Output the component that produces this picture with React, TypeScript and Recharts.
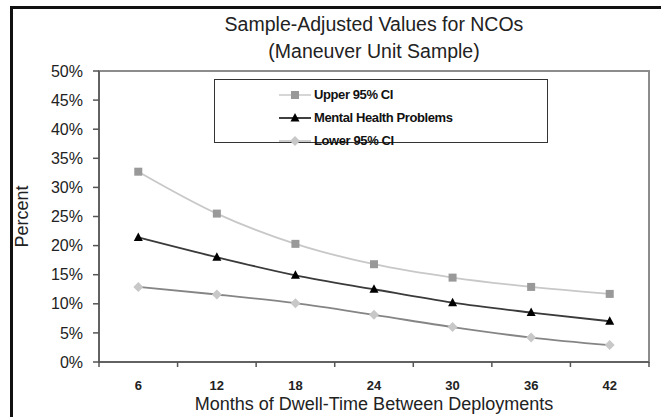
import React from 'react';
import { LineChart, Line, XAxis, YAxis, Legend, ReferenceArea, Label } from 'recharts';

const months = [6, 12, 18, 24, 30, 36, 42];
const upperCI = [32.7, 25.5, 20.3, 16.8, 14.5, 12.9, 11.7];
const mentalHealth = [21.4, 18.0, 14.9, 12.5, 10.2, 8.5, 7.0];
const lowerCI = [12.9, 11.6, 10.1, 8.1, 6.0, 4.2, 2.9];
const xTicks = [3, 6, 9, 12, 15, 18, 21, 24, 27, 30, 33, 36, 39, 42, 45];
const yTicks = [0, 5, 10, 15, 20, 25, 30, 35, 40, 45, 50];
const titleLines = ['Sample-Adjusted Values for NCOs', '(Maneuver Unit Sample)'];

const data = months.map((m, i) => ({
  month: m,
  upper: upperCI[i],
  mental: mentalHealth[i],
  lower: lowerCI[i],
}));

const FONT = '"Liberation Sans", Arial, sans-serif';

const Square = (p: any) => {
  const { cx, cy, fill } = p;
  if (cx == null || cy == null) return null;
  return <rect x={cx - 4} y={cy - 4} width={8} height={8} fill={fill} />;
};
const Triangle = (p: any) => {
  const { cx, cy, fill } = p;
  if (cx == null || cy == null) return null;
  return <polygon points={`${cx},${cy - 5} ${cx + 4.5},${cy + 3.5} ${cx - 4.5},${cy + 3.5}`} fill={fill} />;
};
const Diamond = (p: any) => {
  const { cx, cy, fill } = p;
  if (cx == null || cy == null) return null;
  return <polygon points={`${cx},${cy - 5} ${cx + 5},${cy} ${cx},${cy + 5} ${cx - 5},${cy}`} fill={fill} />;
};

const series = [
  { key: 'upper', name: 'Upper 95% CI', stroke: '#c8c8c8', legendStroke: '#c8c8c8', marker: '#999999', Shape: Square },
  { key: 'mental', name: 'Mental Health Problems', stroke: '#3a3a3a', legendStroke: '#000000', marker: '#000000', Shape: Triangle },
  { key: 'lower', name: 'Lower 95% CI', stroke: '#858585', legendStroke: '#bdbdbd', marker: '#c8c8c8', Shape: Diamond },
];

const XTick = (props: any) => {
  const { x, y, payload } = props;
  const v = payload.value;
  if (v % 6 === 0) {
    return (
      <text x={x} y={y + 28} textAnchor="middle" fontFamily={FONT} fontWeight="bold" fontSize={13} fill="#222">
        {v}
      </text>
    );
  }
  return <line x1={x} x2={x} y1={y} y2={y + 5} stroke="#555" strokeWidth={1.5} />;
};

const LegendContent = () => (
  <div
    style={{
      border: '1px solid #333',
      background: '#fff',
      width: 334,
      height: 64,
      boxSizing: 'border-box',
      paddingTop: 3,
      fontFamily: FONT,
    }}
  >
    {series.map((s) => (
      <div key={s.key} style={{ display: 'flex', alignItems: 'center', height: 23, paddingLeft: 64 }}>
        <svg width={34} height={14}>
          <line x1={0} x2={32} y1={7} y2={7} stroke={s.legendStroke} strokeWidth={1.5} />
          <s.Shape cx={16} cy={7} fill={s.marker} />
        </svg>
        <span style={{ fontSize: 13, fontWeight: 'bold', color: '#111', letterSpacing: -0.4, marginLeft: 1 }}>{s.name}</span>
      </div>
    ))}
  </div>
);

export default function App() {
  return (
    <div style={{ position: 'absolute', left: 0, top: 0, width: 661, height: 417, overflow: 'hidden', background: '#fff' }}>
      <div
        style={{
          position: 'absolute',
          left: 10,
          top: 6,
          width: 700,
          height: 500,
          borderTop: '3px solid #111',
          borderLeft: '3px solid #111',
        }}
      />
      <div style={{ position: 'absolute', left: 0, top: 0 }}>
        <LineChart width={661} height={417} data={data} margin={{ top: 71, right: 12, bottom: 25, left: 0 }}>
          <ReferenceArea x1={3} x2={45} y1={0} y2={50} fill="none" stroke="#8c8c8c" strokeWidth={2} ifOverflow="visible" />
          <XAxis
            dataKey="month"
            type="number"
            domain={[3, 45]}
            ticks={xTicks}
            interval={0}
            tick={<XTick />}
            tickLine={false}
            tickSize={0}
            tickMargin={0}
            axisLine={{ stroke: '#555', strokeWidth: 1.5 }}
            height={30}
          >
            <Label
              value="Months of Dwell-Time Between Deployments"
              position="bottom"
              offset={5}
              style={{ fontFamily: FONT, fontSize: 18, fill: '#222' }}
            />
          </XAxis>
          <YAxis
            type="number"
            domain={[0, 50]}
            ticks={yTicks}
            interval={0}
            width={99}
            tickSize={6}
            tickMargin={10}
            tickFormatter={(v: number) => `${v}%`}
            tick={{ fontFamily: FONT, fontSize: 16, fill: '#222' }}
            tickLine={{ stroke: '#555', strokeWidth: 1.5 }}
            axisLine={{ stroke: '#555', strokeWidth: 1.5 }}
          >
            <Label
              value="Percent"
              angle={-90}
              position="insideLeft"
              offset={22}
              style={{ fontFamily: FONT, fontSize: 18, fill: '#222', textAnchor: 'middle' }}
            />
          </YAxis>
          <Legend
            verticalAlign="middle"
            align="center"
            layout="vertical"
            content={<LegendContent />}
            wrapperStyle={{ position: 'absolute', left: 214, top: 79, width: 334, height: 64 }}
          />
          {series.map((s) => (
            <Line
              key={s.key}
              dataKey={s.key}
              name={s.name}
              type="monotone"
              stroke={s.stroke}
              strokeWidth={1.8}
              dot={(p: any) => <s.Shape key={`${s.key}-${p.index}`} cx={p.cx} cy={p.cy} fill={s.marker} />}
              activeDot={false}
              isAnimationActive={false}
            />
          ))}
          <text x={374} y={31} textAnchor="middle" fontFamily={FONT} fontSize={19.5} fill="#222">
            {titleLines[0]}
          </text>
          <text x={374} y={58} textAnchor="middle" fontFamily={FONT} fontSize={19.5} fill="#222">
            {titleLines[1]}
          </text>
        </LineChart>
      </div>
    </div>
  );
}
